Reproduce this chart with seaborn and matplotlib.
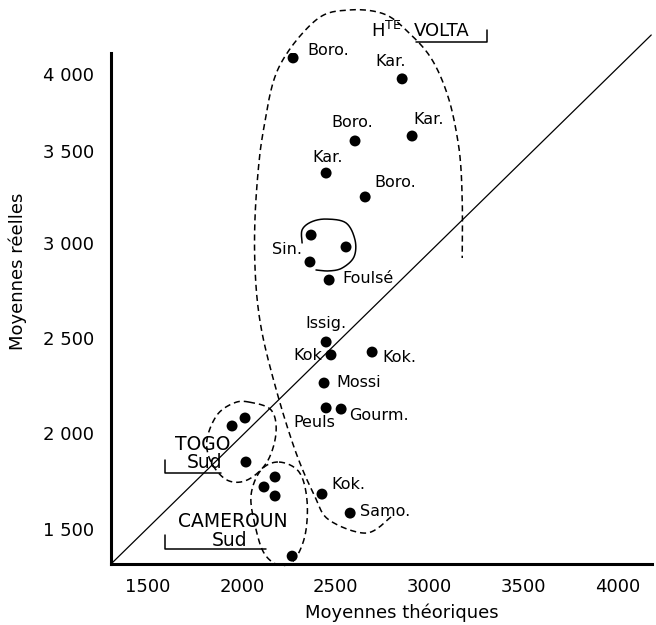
import numpy as np
import pandas as pd
import matplotlib
matplotlib.use("Agg")
import matplotlib.pyplot as plt
import seaborn as sns

names = ["Boro.", "Kar.", "Boro.", "Kar.", "Kar.", "Boro.",
         "", "", "Sin.", "Foulsé", "Issig.", "Kok", "Kok.", "Mossi",
         "Peuls", "Gourm.", "Kok.", "Samo.",
         "", "", "",
         "", "", "", ""]
x_theo = [2273, 2854, 2603, 2907, 2449, 2657,
          2369, 2555, 2363, 2465, 2449, 2475, 2694, 2438,
          2449, 2529, 2427, 2577,
          1948, 2017, 2022,
          2177, 2118, 2177, 2268]
y_reel = [4104, 3968, 3565, 3597, 3380, 3250,
          3043, 2979, 2900, 2805, 2479, 2411, 2426, 2263,
          2132, 2126, 1682, 1583,
          2037, 2079, 1849,
          1771, 1719, 1672, 1359]
group = ["volta"] * 18 + ["togo"] * 3 + ["cameroun"] * 4

x_ticks = [1500, 2000, 2500, 3000, 3500, 4000]
y_ticks = [1500, 2000, 2500, 3000, 3500, 4000]
y_ticklabels = ["1 500", "2 000", "2 500", "3 000", "3 500", "4 000"]

# the scanned y axis is squeezed towards the top
y_ref_vals = [1000, 1500, 2000, 2500, 3000, 3500, 4000, 5000]
y_ref_pos = [-96, 0, 96, 191, 286, 378, 455, 609]

# label offsets in pixels (dx, dy, ha)
label_offsets = {
    0: (14, 7, "left"), 1: (-12, 17, "center"), 2: (-3, 18, "center"),
    3: (17, 17, "center"), 4: (2, 16, "center"), 5: (9, 14, "left"),
    8: (-8, 12, "right"), 9: (13, 2, "left"), 10: (0, 18, "center"),
    11: (-9, -1, "right"), 12: (10, -5, "left"), 13: (12, 1, "left"),
    14: (-12, -15, "center"), 15: (8, -6, "left"), 16: (9, 10, "left"),
    17: (10, 2, "left"),
}

# hand drawn enclosures (data units)
volta_x = [2795, 2662, 2465, 2390, 2289, 2188, 2102, 2070, 2075, 2118, 2198,
           2395, 2571, 2758, 2891, 3014, 3104, 3158, 3174, 3174]
volta_y = [1563, 1479, 1547, 1667, 1896, 2211, 2558, 2874, 3234, 3656, 4045,
           4350, 4415, 4389, 4266, 4091, 3831, 3507, 3234, 2921]
togo_x = [2038, 2156, 2182, 2134, 2028, 1921, 1836, 1814, 1868, 1958]
togo_y = [2163, 2121, 2000, 1849, 1755, 1755, 1849, 1964, 2095, 2158]
cam_x = [2198, 2305, 2347, 2337, 2278, 2198, 2118, 2070, 2049, 2102]
cam_y = [1849, 1797, 1651, 1469, 1338, 1312, 1375, 1521, 1677, 1807]
sin_x = [2321, 2321, 2369, 2449, 2555, 2603, 2597, 2534, 2465, 2395]
sin_y = [3000, 3071, 3114, 3130, 3109, 3016, 2926, 2868, 2853, 2858]

diag_x = [1303, 4181]
diag_y = [1318, 4253]


def smooth(xs, ys, closed=False, n=16):
    P = np.column_stack([xs, ys]).astype(float)
    if closed:
        P = np.vstack([P[-1], P, P[0], P[1]])
    else:
        P = np.vstack([P[0], P, P[-1]])
    t = np.linspace(0, 1, n, endpoint=False)[:, None]
    out = []
    for i in range(1, len(P) - 2):
        p0, p1, p2, p3 = P[i - 1], P[i], P[i + 1], P[i + 2]
        out.append(0.5 * (2 * p1 + (-p0 + p2) * t
                          + (2 * p0 - 5 * p1 + 4 * p2 - p3) * t ** 2
                          + (-p0 + 3 * p1 - 3 * p2 + p3) * t ** 3))
    out.append(P[-2][None, :])
    res = np.vstack(out)
    return res[:, 0], res[:, 1]


sns.set_style("white")
plt.rcParams["font.family"] = ["DejaVu Sans"]
plt.rcParams.update({"text.color": "black", "axes.labelcolor": "black",
                     "xtick.color": "black", "ytick.color": "black"})

df = pd.DataFrame({"theo": x_theo, "reel": y_reel, "name": names, "group": group})

fig = plt.figure(figsize=(6.56, 6.25), dpi=100)
ax = fig.add_axes([111 / 656, 1 - 564 / 625, 541 / 656, 511 / 625])

sns.scatterplot(data=df, x="theo", y="reel", color="black", s=62,
                edgecolor="none", legend=False, ax=ax, zorder=4)

ax.set_yscale("function", functions=(lambda v: np.interp(v, y_ref_vals, y_ref_pos),
                                     lambda p: np.interp(p, y_ref_pos, y_ref_vals)))
ax.set_xlim(1303, 4185)
ax.set_ylim(1318, 4136)

ax.plot(diag_x, diag_y, color="black", lw=0.9, clip_on=False, zorder=2)

dash = (0, (4, 2.6))
for xs, ys, closed in [(volta_x, volta_y, False), (togo_x, togo_y, True),
                       (cam_x, cam_y, True)]:
    sx, sy = smooth(xs, ys, closed)
    ax.plot(sx, sy, color="black", lw=1.1, ls=dash, clip_on=False, zorder=2)
sx, sy = smooth(sin_x, sin_y)
ax.plot(sx, sy, color="black", lw=1.1, clip_on=False, zorder=2)

for i, (dx, dy, ha) in label_offsets.items():
    ax.annotate(names[i], (x_theo[i], y_reel[i]), xytext=(dx, dy),
                textcoords="offset pixels", ha=ha, va="center", fontsize=11.5)

# group captions with their brackets
ax.text(1790, 1911, "TOGO", ha="center", va="baseline", fontsize=13.5)
ax.text(1800, 1818, "Sud", ha="center", va="baseline", fontsize=13.5)
ax.plot([1591, 1591, 1889], [1859, 1792, 1792], color="black", lw=1.1)
ax.text(1953, 1510, "CAMEROUN", ha="center", va="baseline", fontsize=13.5)
ax.text(1937, 1411, "Sud", ha="center", va="baseline", fontsize=13.5)
ax.plot([1591, 1591, 2129], [1469, 1396, 1396], color="black", lw=1.1)
ax.text(2689, 4279, r"H$^{\mathregular{TE}}$", ha="left", va="center",
        fontsize=13, clip_on=False)
ax.text(2918, 4279, "VOLTA", ha="left", va="center", fontsize=13, clip_on=False)
ax.plot([2928, 3307, 3307], [4208, 4208, 4286], color="black", lw=1.1, clip_on=False)

ax.set_xticks(x_ticks)
ax.set_xticklabels([str(v) for v in x_ticks])
ax.set_yticks(y_ticks)
ax.set_yticklabels(y_ticklabels)
ax.minorticks_off()
ax.tick_params(axis="x", direction="inout", length=12, width=1.1, pad=4,
               labelsize=13, color="black", labelcolor="black")
ax.tick_params(axis="y", direction="inout", length=20, width=1.1, pad=2,
               labelsize=13, color="black", labelcolor="black")
for side in ["top", "right"]:
    ax.spines[side].set_visible(False)
for side in ["left", "bottom"]:
    ax.spines[side].set_linewidth(2.2)
    ax.spines[side].set_color("black")

ax.set_xlabel("")
ax.set_ylabel("")
fig.text(402 / 656, 1 - 613 / 625, "Moyennes théoriques", ha="center",
         va="center", fontsize=13)
fig.text(18 / 656, 1 - 271 / 625, "Moyennes réelles", rotation=90,
         ha="center", va="center", fontsize=13)

fig.savefig("out.png", dpi=100)
